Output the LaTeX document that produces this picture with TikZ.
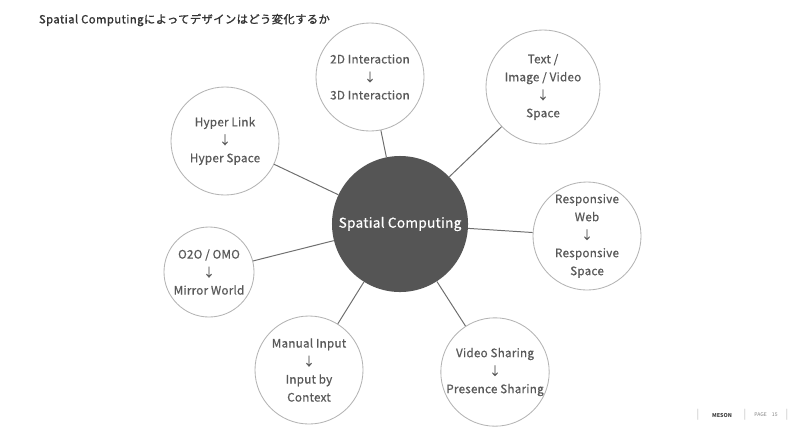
\documentclass[tikz,border=0pt]{standalone}
\usepackage{fontspec}
\setmainfont{Noto Sans CJK JP}
\newfontfamily\medio[FakeBold=0.6,LetterSpace=2]{Noto Sans CJK JP}
\newfontfamily\cabecera[FakeBold=1.2,LetterSpace=4]{Noto Sans CJK JP}
\usepackage{tikz}
\usetikzlibrary{positioning}
\definecolor{tinta}{HTML}{595959}
\definecolor{borde}{HTML}{B4B4B4}
\definecolor{rama}{HTML}{6E6E6E}
\definecolor{nucleo}{HTML}{555555}
\definecolor{titulo}{HTML}{333333}

\begin{document}
\begin{tikzpicture}[x=0.025cm,y=-0.025cm,
tema/.style={circle,draw=borde,line width=0.6pt,fill=white,minimum size=2.7cm,inner sep=0pt,align=center,text=tinta,font=\medio\fontsize{8.3}{12.8}\selectfont},
centro/.style={circle,fill=nucleo,minimum size=3.4cm,inner sep=0pt,text=white,font=\medio\fontsize{9.7}{12}\selectfont},
enlace/.style={draw=rama,line width=0.7pt},
pie/.style={text=gray,font=\fontsize{3.6}{4}\selectfont},
barra/.style={text=lightgray,font=\fontsize{7}{8}\selectfont}
]
\useasboundingbox (0,0) rectangle (800,430);
\node[anchor=west,text=titulo,font=\cabecera\fontsize{8}{10}\selectfont] (titulo) at (34,20) {Spatial Computingによってデザインはどう変化するか};

\node[centro] (sc) at (400,224) {Spatial Computing};
\node[tema] (inter) at (370,77) {2D Interaction\\↓\\3D Interaction};
\node[tema,minimum size=2.85cm] (media) at (543,87) {Text /\\Image / Video\\↓\\Space};
\node[tema] (link) at (225,141) {Hyper Link\\↓\\Hyper Space};
\node[tema] (resp) at (587,236) {Responsive\\Web\\↓\\Responsive\\Space};
\node[tema,minimum size=2.25cm] (omo) at (209,272) {O2O / OMO\\↓\\Mirror World};
\node[tema] (input) at (309,370) {Manual Input\\↓\\Input by\\Context};
\node[tema] (video) at (495,372) {Video Sharing\\↓\\Presence Sharing};

\foreach \n in {inter,media,link,resp,omo,input,video}
  \draw[enlace] (sc) -- (\n);

% pie de pagina
\node[barra] (barra1) at (698,415) {|};
\node[pie,font=\fontsize{3.8}{4}\selectfont\bfseries,text=darkgray] (marca) at (722,415) {MESON};
\node[barra] (barra2) at (745,415) {|};
\node[pie] (pagina) at (766,415) {PAGE\quad 15};
\node[barra] (barra3) at (787,415) {|};
\end{tikzpicture}
\end{document}
